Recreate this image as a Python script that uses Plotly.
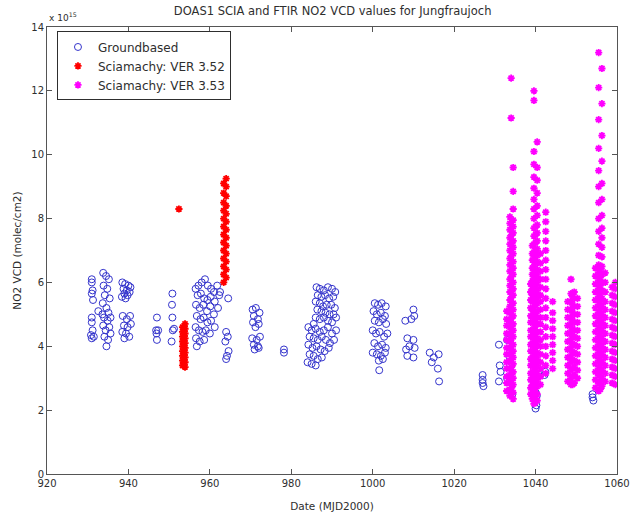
import plotly.graph_objects as go

# ---------------- data (VCD in units of 1e15 molec/cm2) ----------------
gb_day = [
    931.0, 931.0, 931.2, 931.0, 931.3, 931.0, 931.2, 931.0, 931.5, 930.8, 931.0, 932.6,
    933.8, 934.5, 935.2, 933.9, 934.8, 934.2, 935.4, 933.7, 934.6, 935.1, 934.0, 934.9,
    933.8, 935.3, 934.4, 935.6, 934.1, 935.0, 934.6, 933.6, 935.6,
    938.5, 939.2, 940.0, 938.8, 939.6, 940.3, 939.0, 939.8, 938.4, 940.5, 939.3, 938.6,
    939.6, 940.4, 938.9, 939.8, 940.6, 938.5, 939.4, 940.2, 939.0,
    947.0, 946.8, 947.3, 947.0, 946.9,
    950.8, 950.7, 950.8, 950.9, 950.6, 951.2,
    956.5, 957.2, 958.0, 958.8, 959.5, 960.3, 961.0, 961.8, 957.0, 957.8, 958.6, 959.4,
    960.2, 961.2, 962.3, 956.6, 957.5, 958.4, 959.3, 960.1, 961.0, 962.0, 956.8, 957.7,
    958.5, 959.4, 960.3, 961.2, 956.5, 957.3, 958.2, 959.0, 960.0, 956.6, 957.5, 958.6,
    956.8, 962.5, 964.5,
    964.0, 964.4, 963.8, 964.6, 964.2, 964.0,
    970.5, 971.3, 972.2, 970.8, 971.8, 970.6, 972.0, 971.2, 970.4, 971.5, 972.3, 970.8,
    971.8, 971.0, 972.0,
    978.2, 978.2,
    986.2, 987.0, 988.0, 989.0, 990.0, 990.8, 986.5, 987.4, 988.3, 989.3, 990.3, 986.0,
    987.0, 987.8, 988.7, 989.8, 990.7, 986.4, 987.4, 988.4, 989.4, 990.4, 986.0, 987.0,
    988.0, 989.0, 990.0, 991.0, 985.5,
    984.2, 985.0, 986.0, 987.0, 988.0, 989.0, 990.0, 984.5, 985.5, 986.5, 987.5, 988.5,
    989.5, 984.2, 985.2, 986.2, 987.2, 988.2, 989.2, 984.5, 985.5, 986.5, 987.5, 984.0,
    985.0, 986.0, 990.5, 991.0,
    1000.5, 1001.3, 1002.2, 1003.2, 1000.2, 1001.0, 1002.0, 1003.0, 1000.5, 1001.5,
    1002.5, 1003.3, 1000.0, 1000.8, 1001.7, 1002.8, 1003.6, 1000.4, 1001.3, 1002.3,
    1003.2, 1000.0, 1001.0, 1002.0, 1003.0, 1001.5, 1002.5, 1001.6,
    1010.0, 1010.2, 1009.5, 1008.0, 1008.5, 1010.0, 1009.0, 1008.2, 1010.3, 1008.5, 1010.0,
    1014.0, 1015.0, 1016.2, 1014.5, 1016.0, 1016.3,
    1027.0, 1027.0, 1027.0, 1027.2,
    1031.0, 1031.2, 1031.0, 1033.0, 1033.5, 1033.0, 1033.8, 1034.3, 1031.4,
    1040.0, 1040.3, 1040.0, 1040.2, 1040.0,
    1042.4, 1042.2,
    1054.0, 1054.0, 1054.2,
]
gb_vcd = [
    6.1, 6.0, 5.75, 5.65, 5.45, 4.9, 4.5, 4.25, 4.3, 4.35, 4.75, 5.1,
    6.3, 6.2, 6.1, 5.9, 5.8, 5.6, 5.5, 5.35, 5.2, 5.05, 4.9, 4.8,
    4.65, 4.6, 4.5, 4.4, 4.3, 4.2, 4.0, 5.0, 4.9,
    6.0, 5.95, 5.9, 5.8, 5.75, 5.7, 5.65, 5.6, 5.55, 5.85, 5.5, 4.95,
    4.85, 4.95, 4.65, 4.6, 4.7, 4.45, 4.4, 4.3, 4.25,
    4.9, 4.5, 4.5, 4.2, 4.4,
    5.65, 5.3, 4.9, 4.5, 4.15, 4.55,
    5.8, 5.9, 6.0, 6.1, 5.9, 5.8, 5.7, 5.9, 5.6, 5.65, 5.5, 5.45,
    5.55, 5.4, 5.6, 5.3, 5.2, 5.3, 5.1, 5.25, 5.0, 5.2, 4.95, 4.85,
    4.9, 4.75, 4.8, 4.6, 4.6, 4.5, 4.45, 4.5, 4.4, 4.25, 4.15, 4.2,
    4.0, 5.7, 5.5,
    4.45, 4.3, 4.15, 3.85, 3.7, 3.6,
    5.15, 5.2, 5.05, 4.95, 4.85, 4.75, 4.7, 4.6, 4.25, 4.2, 4.3, 4.05,
    4.0, 3.9, 3.95,
    3.9, 3.8,
    5.85, 5.8, 5.75, 5.85, 5.8, 5.7, 5.6, 5.55, 5.6, 5.5, 5.55, 5.4,
    5.35, 5.25, 5.3, 5.3, 5.2, 5.15, 5.1, 5.05, 5.0, 5.0, 4.9, 4.85,
    4.9, 4.8, 4.75, 4.9, 4.7,
    4.6, 4.5, 4.55, 4.45, 4.5, 4.6, 4.4, 4.3, 4.25, 4.2, 4.3, 4.2,
    4.1, 4.05, 3.95, 4.0, 3.9, 3.85, 3.95, 3.75, 3.7, 3.6, 3.65, 3.5,
    3.45, 3.4, 4.2, 4.5,
    5.35, 5.3, 5.35, 5.25, 5.1, 5.0, 5.05, 4.95, 4.8, 4.75,
    4.85, 4.7, 4.5, 4.4, 4.45, 4.3, 4.4, 4.1, 4.0, 4.05,
    3.95, 3.8, 3.75, 3.7, 3.8, 3.55, 3.6, 3.25,
    5.15, 4.95, 4.85, 4.8, 4.25, 4.2, 4.0, 3.9, 3.95, 3.7, 3.65,
    3.8, 3.65, 3.75, 3.5, 3.3, 2.9,
    3.1, 2.95, 2.85, 2.75,
    4.05, 3.4, 2.9, 4.2, 3.7, 3.0, 2.6, 2.5, 3.2,
    2.55, 2.45, 2.3, 2.15, 2.05,
    3.2, 3.1,
    2.5, 2.4, 2.3,
]

sci352_days = [953.3, 953.9, 952.4, 963.4, 964.0]
sci352_vcd = [
    [3.4, 3.55, 3.7, 3.85, 4.0, 4.15, 4.3, 4.45, 4.6],
    [3.35, 3.5, 3.65, 3.8, 3.95, 4.1, 4.25, 4.4, 4.55, 4.7],
    [8.3],
    [6.0, 6.25, 6.5, 6.75, 7.0, 7.25, 7.5, 7.75, 8.0, 8.25, 8.5, 8.8, 9.1],
    [6.15, 6.4, 6.65, 6.9, 7.15, 7.4, 7.65, 7.9, 8.15, 8.4, 8.7, 9.0, 9.25],
]

sci353_days = [1032.9, 1033.7, 1034.5, 1034.1, 1034.0,
               1038.8, 1039.2, 1039.6, 1040.0, 1040.4, 1041.2, 1042.5, 1044.2,
               1047.9, 1048.7, 1049.1, 1049.5, 1050.3,
               1054.7, 1055.5, 1055.9, 1056.3, 1057.1, 1058.8, 1059.6]
sci353_vcd = [
    [2.6, 2.85, 3.05, 3.3, 3.5, 3.75, 3.95, 4.2, 4.4, 4.65, 4.85, 5.1],
    [2.45, 2.65, 2.9, 3.1, 3.3, 3.55, 3.75, 3.95, 4.15, 4.4, 4.6, 4.8, 5.05, 5.25, 5.45,
     5.7, 5.9, 6.1, 6.35, 6.55, 6.75, 7.0, 7.2, 7.4, 7.65, 7.85, 8.05],
    [2.35, 2.55, 2.8, 3.0, 3.2, 3.45, 3.65, 3.85, 4.05, 4.3, 4.5, 4.7, 4.95, 5.15, 5.35,
     5.6, 5.8, 6.0, 6.25, 6.45, 6.65, 6.9, 7.1, 7.3, 7.55, 7.75, 7.95, 8.3, 8.85, 9.6],
    [2.5, 2.7, 2.95, 3.15, 3.35, 3.6, 3.8, 4.0, 4.25, 4.45, 4.65, 4.9, 5.1, 5.3, 5.55,
     5.75, 5.95, 6.2, 6.4, 6.6, 6.85, 7.05, 7.25, 7.5, 7.7],
    [11.15, 12.4],
    [2.5, 2.7, 2.95, 3.15, 3.4, 3.6, 3.85, 4.05, 4.3, 4.5, 4.75, 4.95, 5.2, 5.45, 5.7, 5.95],
    [2.35, 2.55, 2.8, 3.0, 3.2, 3.45, 3.65, 3.85, 4.1, 4.3, 4.5, 4.75, 4.95, 5.15, 5.4,
     5.6, 5.8, 6.05, 6.25, 6.45, 6.7, 6.9, 7.15],
    [2.2, 2.4, 2.6, 2.85, 3.05, 3.25, 3.5, 3.7, 3.9, 4.15, 4.35, 4.55, 4.8, 5.0, 5.2, 5.45,
     5.65, 5.85, 6.1, 6.3, 6.5, 6.75, 6.95, 7.2, 7.45, 7.7, 8.0, 8.3, 8.6, 8.95, 9.3, 9.7,
     10.1, 11.7, 12.0],
    [2.25, 2.45, 2.7, 2.9, 3.1, 3.35, 3.55, 3.75, 4.0, 4.2, 4.4, 4.65, 4.85, 5.05, 5.3,
     5.5, 5.7, 5.95, 6.15, 6.35, 6.6, 6.8, 7.0, 7.25, 7.5, 7.75],
    [2.3, 2.5, 2.75, 2.95, 3.15, 3.4, 3.6, 3.8, 4.05, 4.25, 4.45, 4.7, 4.9, 5.1, 5.35, 5.55,
     5.75, 6.0, 6.2, 6.4, 6.65, 6.85, 7.05, 7.3, 7.55, 7.8, 8.1, 8.4, 8.8, 9.2, 9.6, 10.4],
    [2.8, 3.05, 3.3, 3.5, 3.75, 4.0, 4.2, 4.45, 4.7, 4.9, 5.15, 5.4, 5.6, 5.85, 6.1, 6.35,
     6.6, 6.9],
    [3.15, 3.4, 3.7, 4.0, 4.3, 4.6, 4.9, 5.2, 5.5, 5.8, 6.1, 6.4, 6.7, 7.0, 7.3, 7.6, 7.9, 8.2],
    [3.3, 3.55, 3.8, 4.05, 4.3, 4.55, 4.8, 5.05, 5.4],
    [2.9, 3.15, 3.4, 3.65, 3.9, 4.15, 4.4, 4.65, 4.9, 5.15, 5.4],
    [2.8, 3.0, 3.25, 3.5, 3.7, 3.95, 4.2, 4.45, 4.7, 4.9, 5.15, 5.4, 5.65, 6.1],
    [2.8, 3.05, 3.3, 3.55, 3.8, 4.05, 4.3, 4.55, 4.8, 5.05, 5.3, 5.55],
    [2.85, 3.1, 3.35, 3.55, 3.8, 4.05, 4.3, 4.5, 4.75, 5.0, 5.25, 5.5, 5.7],
    [3.0, 3.25, 3.5, 3.75, 4.0, 4.25, 4.5, 4.75, 5.0, 5.25, 5.5],
    [2.7, 2.95, 3.2, 3.45, 3.7, 3.95, 4.2, 4.45, 4.7, 4.95, 5.2, 5.45, 5.7, 5.95, 6.2, 6.45],
    [2.6, 2.85, 3.1, 3.3, 3.55, 3.8, 4.05, 4.3, 4.55, 4.8, 5.05, 5.3, 5.55, 5.8, 6.05, 6.3,
     6.55, 6.85, 7.2, 7.6, 8.0, 8.5, 9.0, 9.5, 10.2, 11.1, 12.1, 13.2],
    [2.65, 2.9, 3.15, 3.4, 3.65, 3.9, 4.15, 4.4, 4.65, 4.9, 5.15, 5.4, 5.65, 5.9, 6.15, 6.4],
    [2.75, 3.0, 3.25, 3.5, 3.75, 4.0, 4.25, 4.5, 4.75, 5.0, 5.25, 5.5, 5.75, 6.0, 6.25, 6.5,
     6.8, 7.1, 7.4, 7.7, 8.1, 8.6, 9.1, 9.8, 10.6, 11.6, 12.7],
    [2.9, 3.15, 3.4, 3.65, 3.9, 4.15, 4.4, 4.65, 4.9, 5.15, 5.4, 5.7, 6.0, 6.3],
    [2.85, 3.1, 3.35, 3.6, 3.85, 4.1, 4.35, 4.6, 4.85, 5.1, 5.35, 5.6, 5.85],
    [2.8, 3.05, 3.3, 3.55, 3.8, 4.05, 4.3, 4.55, 4.8, 5.05, 5.3, 5.55, 5.8, 6.0],
]

x_ticks = [920, 940, 960, 980, 1000, 1020, 1040, 1060]
y_ticks = [0, 2, 4, 6, 8, 10, 12, 14]


def flatten(days, groups):
    xs, ys = [], []
    for d, vals in zip(days, groups):
        xs.extend([d] * len(vals))
        ys.extend(vals)
    return xs, ys


r_x, r_y = flatten(sci352_days, sci352_vcd)
m_x, m_y = flatten(sci353_days, sci353_vcd)

FONT = "DejaVu Sans, Verdana, sans-serif"
TXT = "#2e2e2e"

fig = go.Figure()
fig.add_trace(go.Scatter(
    x=gb_day, y=gb_vcd, mode="markers", name="Groundbased",
    marker=dict(symbol="circle-open", size=7, color="#3434cc", line=dict(width=1)),
))
fig.add_trace(go.Scatter(
    x=r_x, y=r_y, mode="markers", name="Sciamachy: VER 3.52",
    marker=dict(symbol="asterisk-open", size=6, color="#ff0000",
                line=dict(width=1.8, color="#ff0000")),
))
fig.add_trace(go.Scatter(
    x=m_x, y=m_y, mode="markers", name="Sciamachy: VER 3.53",
    marker=dict(symbol="asterisk-open", size=6, color="#ff00ff",
                line=dict(width=1.8, color="#ff00ff")),
))

axis_common = dict(
    showline=True, linecolor="#555555", linewidth=1, mirror="allticks",
    ticks="inside", ticklen=5, tickcolor="#555555", showgrid=False, zeroline=False,
    automargin=False,
    tickfont=dict(family=FONT, size=10, color=TXT),
)

fig.update_layout(
    width=630, height=521,
    margin=dict(l=47, r=13, t=27, b=47),
    paper_bgcolor="white", plot_bgcolor="white",
    font=dict(family=FONT, size=10, color=TXT),
    title=dict(text="DOAS1 SCIA and FTIR NO2 VCD values for Jungfraujoch",
               x=0.528, xanchor="center", y=0.978, yanchor="middle",
               font=dict(family=FONT, size=11.5, color=TXT)),
    xaxis=dict(range=[920, 1060], tickvals=x_ticks,
               title=dict(text="Date (MJD2000)", standoff=14,
                          font=dict(family=FONT, size=10.5, color=TXT)),
               **axis_common),
    yaxis=dict(range=[0, 14], tickvals=y_ticks,
               title=dict(text="NO2 VCD (molec/cm2)", standoff=7,
                          font=dict(family=FONT, size=10.5, color=TXT)),
               **axis_common),
    legend=dict(x=0.0175, y=0.99, xanchor="left", yanchor="top",
                bordercolor=TXT, borderwidth=1, bgcolor="white",
                font=dict(family=FONT, size=12, color=TXT),
                itemsizing="trace", itemwidth=30, tracegroupgap=0),
    showlegend=True,
)

fig.add_annotation(text="x 10<sup>15</sup>", xref="paper", yref="paper",
                   x=0, y=1, xanchor="left", yanchor="bottom", yshift=2,
                   showarrow=False, font=dict(family=FONT, size=9, color=TXT))

fig.write_html("out.html",
               config={"displayModeBar": False},
               post_script="document.body.style.margin='0px';"
                           "document.body.style.padding='0px';"
                           "document.documentElement.style.overflow='hidden';")
